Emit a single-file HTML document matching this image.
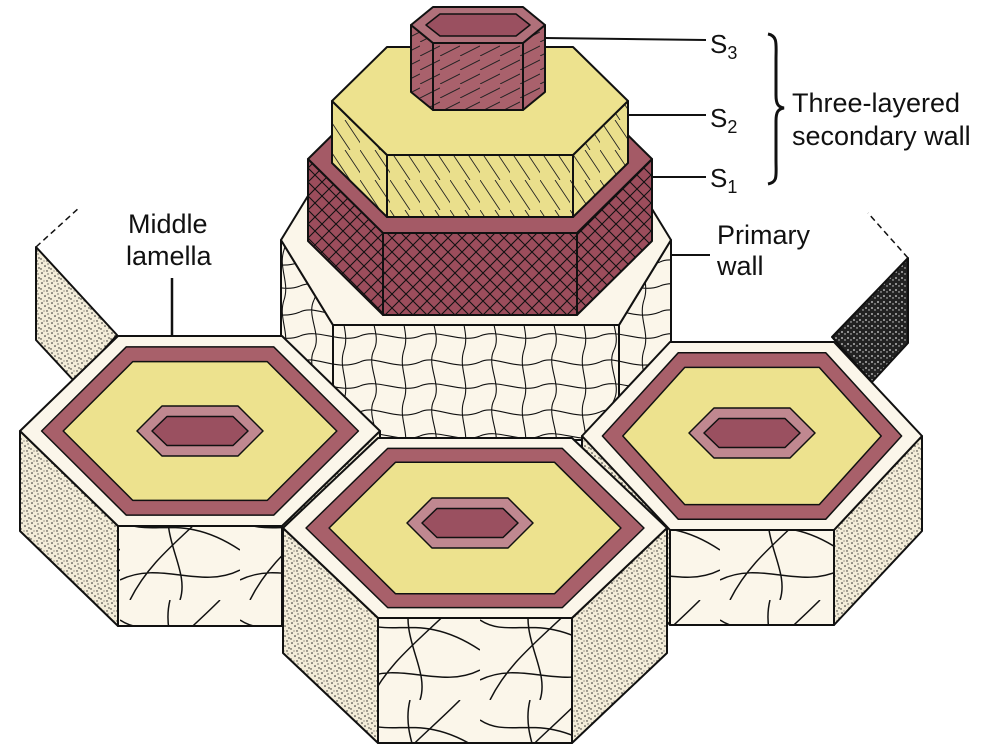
<!DOCTYPE html>
<html><head><meta charset="utf-8"><style>
html,body{margin:0;padding:0;background:#fff;}
svg{display:block;}
text{font-family:"Liberation Sans",sans-serif;fill:#111;}
</style></head><body>
<svg id="fig" width="1000" height="750" viewBox="0 0 1000 750">
<defs>
<pattern id="stip" width="10" height="10" patternUnits="userSpaceOnUse">
<rect width="10" height="10" fill="#f3ecd8"/>
<circle cx="2" cy="3" r="0.8" fill="#222"/><circle cx="7" cy="1" r="0.7" fill="#222"/><circle cx="5" cy="6" r="0.8" fill="#222"/><circle cx="9" cy="8" r="0.7" fill="#222"/><circle cx="1" cy="9" r="0.7" fill="#222"/><circle cx="8" cy="4" r="0.6" fill="#222"/><circle cx="4" cy="1" r="0.5" fill="#222"/>
</pattern>
<pattern id="darkstip" width="6" height="6" patternUnits="userSpaceOnUse">
<rect width="6" height="6" fill="#222"/><circle cx="2" cy="2" r="0.9" fill="#ddd"/><circle cx="5" cy="4" r="0.7" fill="#ddd"/>
</pattern>
<pattern id="curvy" width="120" height="100" patternUnits="userSpaceOnUse">
<rect width="120" height="100" fill="#fbf6ea"/>
<path d="M0 20 C30 40 60 10 120 50 M10 100 C30 60 60 40 100 0 M0 80 C40 60 80 90 120 70 M60 100 C70 70 40 40 50 0" stroke="#111" stroke-width="1.5" fill="none"/>
</pattern>
<pattern id="net" width="60" height="50" patternUnits="userSpaceOnUse">
<rect width="60" height="50" fill="#fbf6ea"/>
<path d="M0 12 C15 4 35 22 60 12 M0 36 C18 28 40 44 60 36 M14 0 C6 16 22 34 14 50 M44 0 C38 18 50 32 44 50" stroke="#111" stroke-width="1.1" fill="none"/>
</pattern>
<pattern id="cross" width="14" height="14" patternUnits="userSpaceOnUse">
<rect width="14" height="14" fill="#9c4d5c"/>
<path d="M0 0 L14 14 M14 0 L0 14" stroke="#111" stroke-width="1.1"/>
</pattern>
<pattern id="diag" width="30" height="30" patternUnits="userSpaceOnUse">
<rect width="30" height="30" fill="#eadf8c"/>
<path d="M0 0 L20 30 M15 0 L35 30" stroke="#222" stroke-width="0.9"/>
</pattern>
<pattern id="diag3" width="20" height="14" patternUnits="userSpaceOnUse">
<rect width="20" height="14" fill="#a9616c"/>
<path d="M0 14 L20 4" stroke="#222" stroke-width="1"/>
</pattern>
</defs>
<g id="scene"></g>
<g id="labels">
<line x1="545" y1="38" x2="706" y2="40" stroke="#111" stroke-width="2"/>
<line x1="628" y1="115" x2="706" y2="115" stroke="#111" stroke-width="2"/>
<line x1="652" y1="177" x2="706" y2="177" stroke="#111" stroke-width="2"/>
<text x="710" y="53" font-size="26">S<tspan font-size="18" dy="6">3</tspan></text>
<text x="710" y="127" font-size="26">S<tspan font-size="18" dy="6">2</tspan></text>
<text x="710" y="187" font-size="26">S<tspan font-size="18" dy="6">1</tspan></text>
<path d="M768 34 C778 36 776 44 776 60 L776 95 C776 104 778 107 784 108 C778 109 776 112 776 121 L776 160 C776 176 778 182 768 184" stroke="#111" stroke-width="3" fill="none"/>
<text x="792" y="112" font-size="27">Three-layered</text>
<text x="792" y="145" font-size="27">secondary wall</text>
<line x1="670" y1="255" x2="710" y2="255" stroke="#111" stroke-width="2"/>
<text x="717" y="244" font-size="27">Primary</text>
<text x="717" y="275" font-size="27">wall</text>
<line x1="172" y1="278" x2="172" y2="336" stroke="#111" stroke-width="2.5"/>
<text x="128" y="233" font-size="27">Middle</text>
<text x="126" y="265" font-size="27">lamella</text>
</g>
</svg>
<script>
var NS="http://www.w3.org/2000/svg";
var scene=document.getElementById('scene');
function hexPts(cx,cy,rx,w,h){return [[cx-rx,cy],[cx-w,cy-h],[cx+w,cy-h],[cx+rx,cy],[cx+w,cy+h],[cx-w,cy+h]];}
function str(p){return p.map(function(q){return q[0]+','+q[1];}).join(' ');}
function poly(pts,fill,name,sw){
  var e=document.createElementNS(NS,'polygon');
  e.setAttribute('points',str(pts));e.setAttribute('fill',fill);
  e.setAttribute('stroke','#111');e.setAttribute('stroke-width',sw==null?2:sw);
  e.setAttribute('stroke-linejoin','round');
  
  
  scene.appendChild(e);return e;
}
function prism(cx,cy,rx,w,h,D,side,front,top,name){
  var p=hexPts(cx,cy,rx,w,h);
  poly([p[0],p[5],[p[5][0],p[5][1]+D],[p[0][0],p[0][1]+D]],side,name+'-left-face');
  poly([p[5],p[4],[p[4][0],p[4][1]+D],[p[5][0],p[5][1]+D]],front,name+'-front-face');
  poly([p[4],p[3],[p[3][0],p[3][1]+D],[p[4][0],p[4][1]+D]],side,name+'-right-face');
  if(top) poly(p,top,name+'-top');
  return p;
}
poly([[36,247],[117,335],[75,382],[36,340]],'url(#stip)','back-left-face');
poly([[908,258],[832,337],[872,382],[908,343]],'url(#darkstip)','back-right-face');
var d1=document.createElementNS(NS,'path');d1.setAttribute('d','M36 247 L80 207 M908 258 L868 213');d1.setAttribute('stroke','#111');d1.setAttribute('stroke-dasharray','6 4');d1.setAttribute('stroke-width','1.5');


scene.appendChild(d1);
prism(476,240,195,143,85,115,'url(#net)','url(#net)','#fbf6ea','primary-wall-block');
prism(480,159,172,97,74,82,'url(#cross)','url(#cross)','#a45a66','s1-block');
prism(480,101,148,93,54,62,'url(#diag)','url(#diag)','#ede28e','s2-block');
prism(478,25,67,45,18,67,'url(#diag3)','url(#diag3)','#b0707a','s3-block');
poly(hexPts(478,25,52,38,11),'#9a5060','s3-lumen',1.5);
function cell(cx,cy,rx,w,h,D,icx,icy,name){
  prism(cx,cy,rx,w,h,D,'url(#stip)','url(#curvy)','#fbf6ea',name);
  poly(hexPts(cx,cy,rx*0.88,w*0.9,h*0.885),'#a8606a',name+'-s1-ring',1.5);
  poly(hexPts(cx,cy,rx*0.76,w*0.82,h*0.73),'#ede28e',name+'-s2-layer',1.5);
  poly(hexPts(icx,icy,63,38,25),'#c08890',name+'-s3-ring',1.5);
  poly(hexPts(icx,icy,48,33,14.5),'#9a5060',name+'-lumen',1.5);
}
cell(200,431,180,82,95,100,200,431,'left-cell');
cell(752,436,170,82,94,95,752,433,'right-cell');
cell(475,528,192,97,90,125,470,523,'center-cell');
</script>
</body></html>
